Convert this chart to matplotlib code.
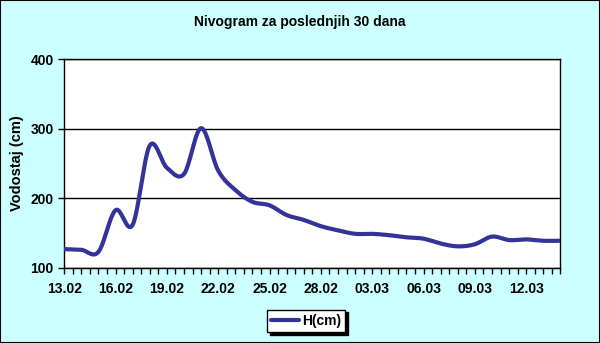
import numpy as np
import matplotlib.pyplot as plt
from matplotlib.patches import Rectangle

plt.rcParams['font.family'] = ['Liberation Sans', 'DejaVu Sans']

# days since 13.02, one reading per day
days = list(range(30))
level = [127, 126, 123, 183, 162, 276, 244, 235, 301, 240,
         212, 195, 190, 176, 169, 160, 154, 149, 149, 147,
         144, 142, 135, 131, 134, 145, 140, 141, 139, 139]
tick_days = [0, 3, 6, 9, 12, 15, 18, 21, 24, 27]
tick_labels = ['13.02', '16.02', '19.02', '22.02', '25.02', '28.02',
               '03.03', '06.03', '09.03', '12.03']


def smooth(x, y, n=20):
    # excel style smoothed line (catmull-rom)
    x = np.asarray(x, float)
    y = np.asarray(y, float)
    px = np.concatenate([[2*x[0]-x[1]], x, [2*x[-1]-x[-2]]])
    py = np.concatenate([[2*y[0]-y[1]], y, [2*y[-1]-y[-2]]])
    t = np.linspace(0, 1, n, endpoint=False)
    xs, ys = [], []
    for i in range(1, len(px)-2):
        for p, out in ((px, xs), (py, ys)):
            p0, p1, p2, p3 = p[i-1], p[i], p[i+1], p[i+2]
            out.extend(0.5*((2*p1) + (-p0+p2)*t + (2*p0-5*p1+4*p2-p3)*t**2
                            + (-p0+3*p1-3*p2+p3)*t**3))
    xs.append(x[-1])
    ys.append(y[-1])
    return xs, ys


fig = plt.figure(figsize=(6, 3.43), dpi=100, facecolor='#CCFFFF')
fig.patches.append(Rectangle((0, 0), 1, 1, transform=fig.transFigure,
                             fill=False, edgecolor='black', linewidth=1.5))
ax = fig.add_axes([0.107, 0.219, 0.827, 0.608])
ax.set_facecolor('white')

sx, sy = smooth(days, level)
ax.plot(sx, sy, color='#333399', linewidth=3, label='H(cm)',
        solid_capstyle='round', zorder=3)

ax.set_xlim(0, 29)
ax.set_ylim(100, 400)
ax.set_yticks([100, 200, 300, 400])
ax.set_xticks(tick_days)
ax.set_xticklabels(tick_labels)
ax.set_xticks(np.arange(0, 29.01, 0.5), minor=True)
ax.grid(axis='y', color='black', linewidth=1)
ax.tick_params(axis='both', which='both', direction='out', length=4,
               width=1, labelsize=10)
ax.tick_params(axis='x', pad=6)
for lbl in ax.get_xticklabels() + ax.get_yticklabels():
    lbl.set_fontweight('bold')
for s in ax.spines.values():
    s.set_color('black')
    s.set_linewidth(1)

ax.set_ylabel('Vodostaj (cm)', fontsize=10.5, fontweight='bold', labelpad=5)
fig.text(0.5, 0.935, 'Nivogram za poslednjih 30 dana', ha='center',
         va='center', fontsize=10, fontweight='bold')

fig.legend(loc='center', bbox_to_anchor=(0.51, 0.065),
           frameon=True, fancybox=False, edgecolor='black', framealpha=1,
           shadow={'color': 'black', 'alpha': 1},
           prop={'weight': 'bold', 'size': 10}, handlelength=2.0,
           borderpad=0.3, handletextpad=0.2)

fig.savefig('out.png', dpi=100, facecolor=fig.get_facecolor())
